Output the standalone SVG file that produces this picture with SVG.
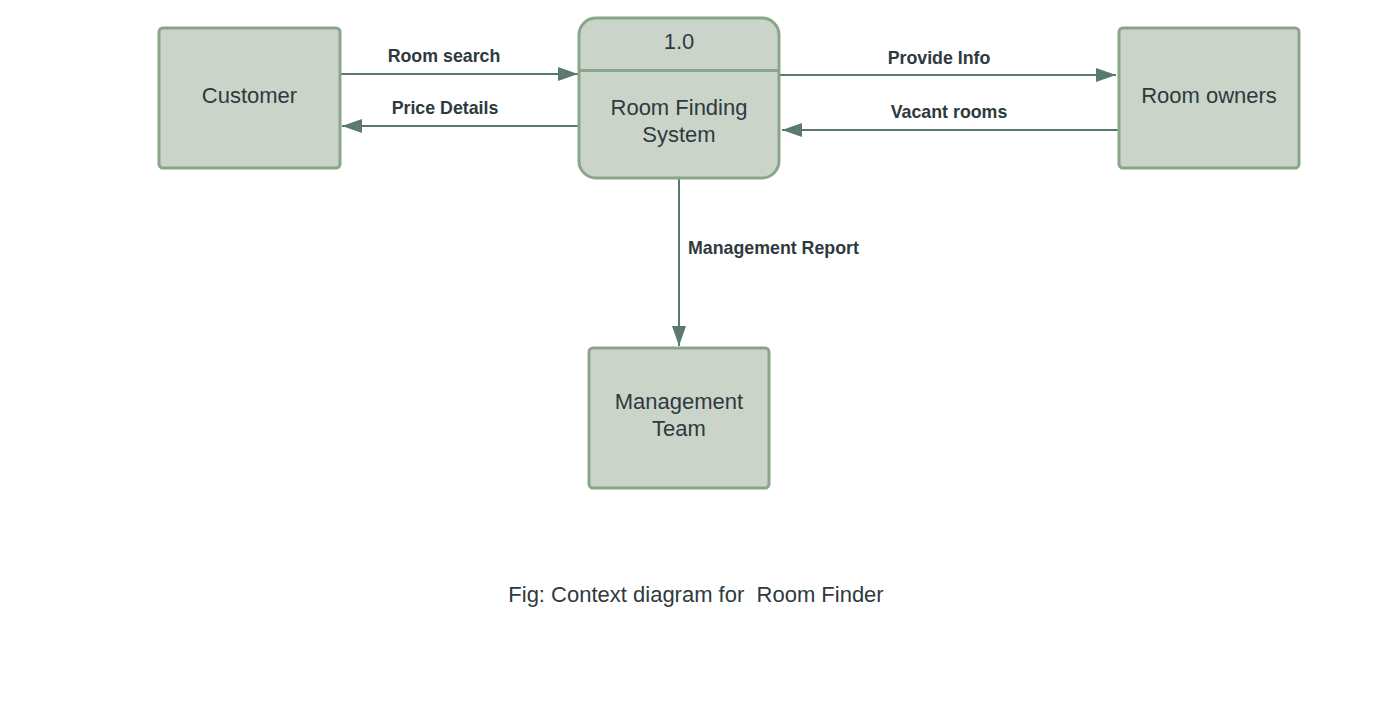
<svg xmlns="http://www.w3.org/2000/svg" width="1396" height="705" viewBox="0 0 1396 705">
<defs>
<style>
.box{fill:#cbd4c8;stroke:#8aa68a;stroke-width:3}
.t{font-family:"Liberation Sans",Arial,sans-serif;font-size:22px;fill:#2e3a40;text-anchor:middle}
.l{font-family:"Liberation Sans",Arial,sans-serif;font-size:17.8px;font-weight:bold;fill:#2e3a40;text-anchor:middle}
.c{stroke:#5a7a6c;stroke-width:2;fill:none}
</style>
<marker id="ah" viewBox="0 0 20 14" refX="20" refY="7" markerWidth="20" markerHeight="14" markerUnits="userSpaceOnUse" orient="auto">
<path d="M0,0 L20,7 L0,14 Z" fill="#5a7a6c"/>
</marker>
</defs>
<rect width="1396" height="705" fill="#fff"/>
<g id="connectors">
<line class="c" x1="341" y1="74" x2="578" y2="74" marker-end="url(#ah)"/>
<line class="c" x1="578" y1="126" x2="342" y2="126" marker-end="url(#ah)"/>
<line class="c" x1="780" y1="75" x2="1116" y2="75" marker-end="url(#ah)"/>
<line class="c" x1="1118" y1="130" x2="782" y2="130" marker-end="url(#ah)"/>
<line class="c" x1="679" y1="179" x2="679" y2="346" marker-end="url(#ah)"/>
<text class="l" x="444" y="62">Room search</text>
<text class="l" x="445" y="114">Price Details</text>
<text class="l" x="939" y="64">Provide Info</text>
<text class="l" x="949" y="118">Vacant rooms</text>
<text class="l" x="688" y="254" style="text-anchor:start">Management Report</text>
</g>
<g id="customer">
<rect class="box" x="159" y="28" width="181" height="140" rx="4"/>
<text class="t" x="249.500" y="103">Customer</text>
</g>
<g id="process">
<rect class="box" x="579" y="18" width="200" height="160" rx="17"/>
<line x1="579" y1="70.500" x2="779" y2="70.500" stroke="#8aa68a" stroke-width="3"/>
<text class="t" x="679" y="49">1.0</text>
<text class="t" x="679" y="115">Room Finding</text>
<text class="t" x="679" y="142">System</text>
</g>
<g id="owners">
<rect class="box" x="1119" y="28" width="180" height="140" rx="4"/>
<text class="t" x="1209" y="103">Room owners</text>
</g>
<g id="management">
<rect class="box" x="589" y="348" width="180" height="140" rx="4"/>
<text class="t" x="679" y="409">Management</text>
<text class="t" x="679" y="436">Team</text>
</g>
<text class="t" x="696" y="602" style="white-space:pre" xml:space="preserve">Fig: Context diagram for  Room Finder</text>
</svg>
